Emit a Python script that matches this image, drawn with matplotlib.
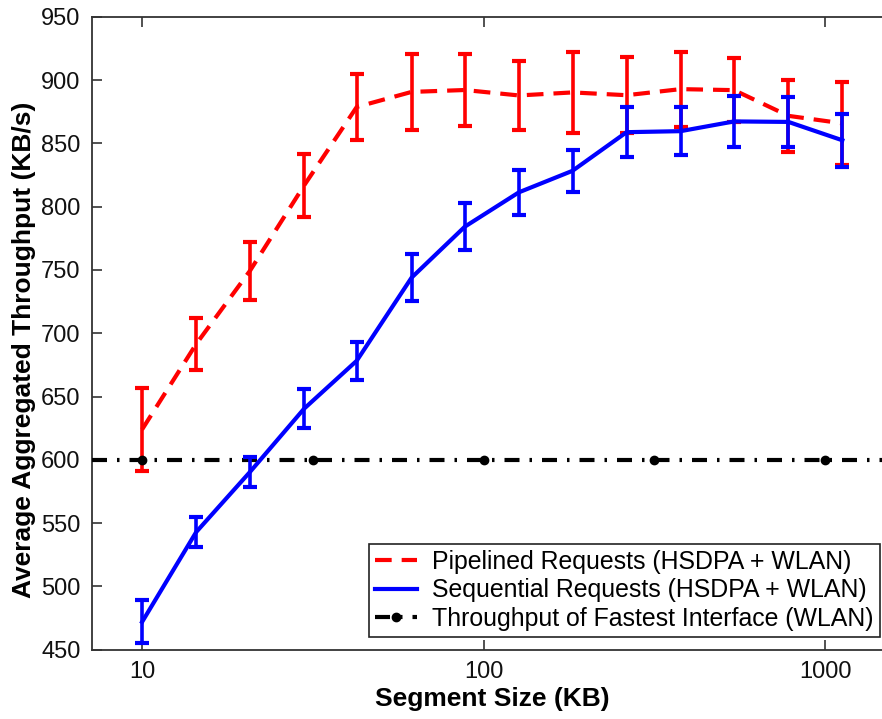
import matplotlib
matplotlib.use("Agg")
import matplotlib.pyplot as plt
import numpy as np

plt.rcParams['font.family'] = ['Liberation Sans', 'DejaVu Sans']

# segment sizes (KB)
seg = np.array([10, 14.4, 20.7, 29.8, 42.5, 61.5, 88.1, 126.8, 182, 262, 377, 541, 780, 1122])

# pipelined requests (HSDPA + WLAN)
pip = np.array([624, 691.5, 749.4, 816.7, 878.7, 890.6, 892.1, 887.8, 890.2, 888, 892.8, 892, 871.7, 865.8])
pip_err = np.array([33, 20.5, 23, 24.6, 26, 30, 28.4, 27.2, 32.2, 30, 29.6, 25, 28.3, 32.9])

# sequential requests (HSDPA + WLAN)
seq = np.array([472, 543, 590.5, 640.4, 678.3, 743.9, 784.2, 811.3, 828.3, 858.8, 859.6, 867.3, 866.9, 852.4])
seq_err = np.array([17, 12, 12, 15.4, 15.1, 18.8, 18.4, 17.8, 16.5, 19.7, 18.9, 20.4, 19.5, 20.8])

# fastest interface (WLAN) reference
wlan_x = np.array([7.12, 10, 31.6, 100, 316, 1000, 1585])
wlan_y = np.array([600, 600, 600, 600, 600, 600, 600])

xmin, xmax = 7.12, 1585

fig = plt.figure(figsize=(8.82, 7.19), dpi=100)
ax = fig.add_axes([91.7 / 882, (719 - 649.8) / 719, (893.6 - 91.7) / 882, 633.1 / 719])

pip_c = ax.errorbar(seg, pip, yerr=pip_err, color='red', lw=3, elinewidth=2.6, capsize=5, capthick=3,
                    dashes=(4, 2.4), zorder=2)
wlan_line, = ax.plot(wlan_x, wlan_y, color='black', lw=3, dashes=(3.6, 2.4, 0.6, 2.4), marker='o',
                     markersize=6, markevery=[1, 2, 3, 4, 5], zorder=3)
seq_c = ax.errorbar(seg, seq, yerr=seq_err, color='blue', lw=3, elinewidth=2.6, capsize=5, capthick=3,
                    zorder=4)

ax.set_xscale('log')
ax.set_xlim(xmin, xmax)
ax.set_ylim(450, 950)
ax.set_xticks([10, 100, 1000])
ax.set_xticklabels(['10', '100', '1000'])
ax.xaxis.set_minor_locator(matplotlib.ticker.NullLocator())
ax.set_yticks(np.arange(450, 951, 50))

ax.tick_params(direction='in', length=7, width=1.2, labelsize=17, colors='#333333', labelcolor='#111111',
               top=True, right=True, pad=8)
for s in ax.spines.values():
    s.set_color('#333333')
    s.set_linewidth(1.3)

ax.set_xlabel('Segment Size (KB)', fontsize=19, fontweight='bold', labelpad=3)
ax.set_ylabel('Average Aggregated Throughput (KB/s)', fontsize=19, fontweight='bold')
ax.yaxis.set_label_coords(-0.0695, 0.4735)

leg = ax.legend([pip_c[0], seq_c[0], wlan_line],
                ['Pipelined Requests (HSDPA + WLAN)', 'Sequential Requests (HSDPA + WLAN)',
                 'Throughput of Fastest Interface (WLAN)'],
                loc='lower right', bbox_to_anchor=(880 / 882, (719 - 637) / 719),
                bbox_transform=fig.transFigure, fontsize=17.9, frameon=True, fancybox=False,
                framealpha=1, edgecolor='#222222', borderpad=0.25, labelspacing=0.18,
                handlelength=1.7, handletextpad=0.6, borderaxespad=0)
leg.get_frame().set_linewidth(1.2)

fig.savefig('out.png', dpi=100)
